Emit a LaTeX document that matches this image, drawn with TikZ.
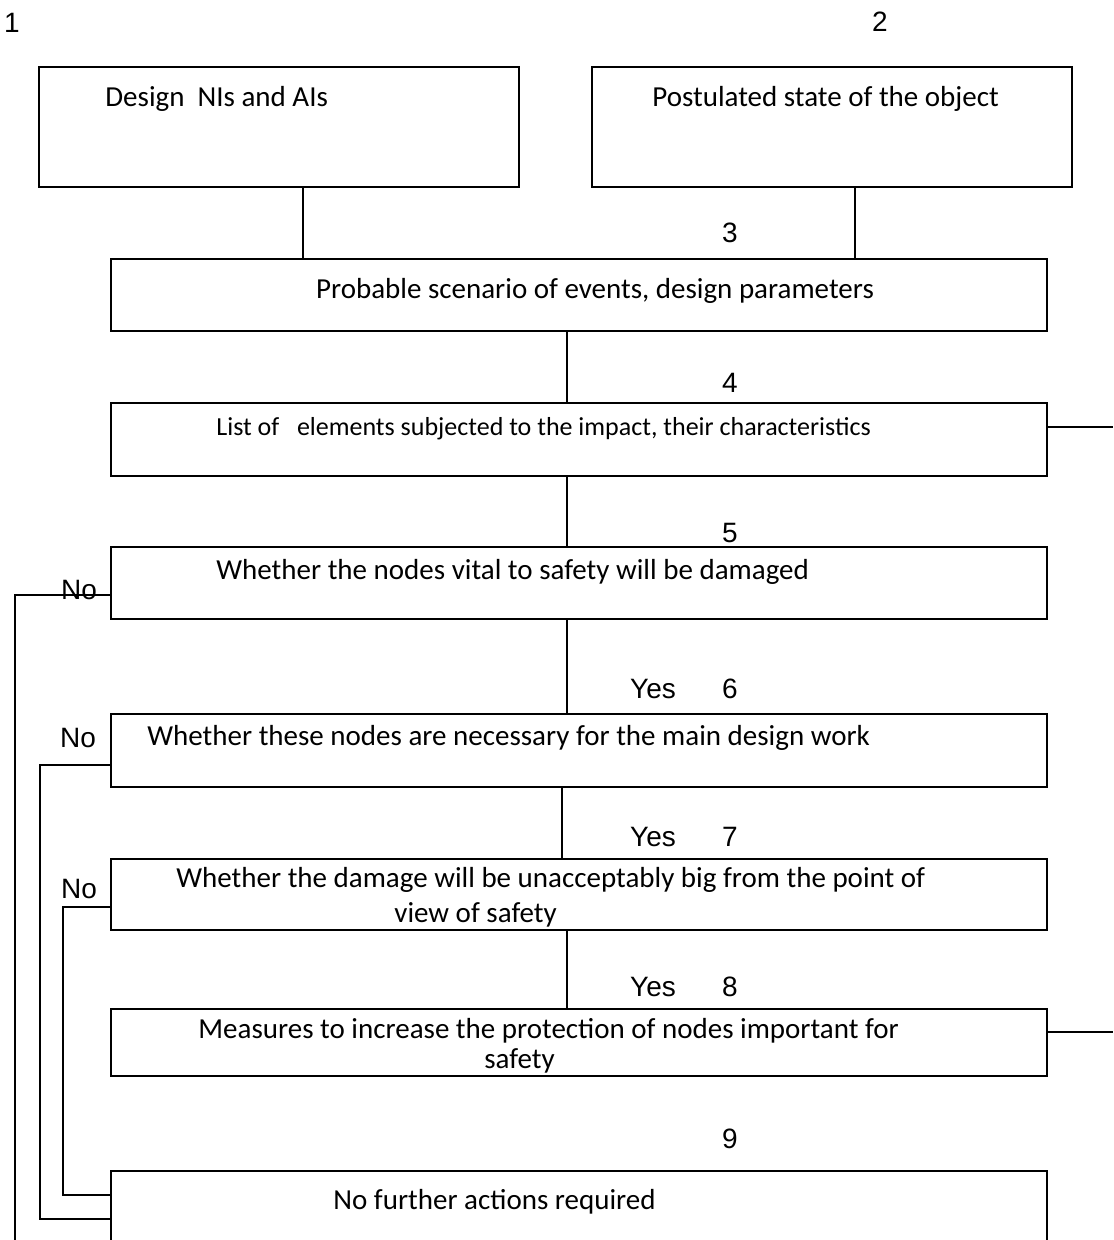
\documentclass[tikz,border=0pt]{standalone}
\usepackage{fontspec}
\setmainfont{Carlito}
\newfontfamily\labelfont{Liberation Sans}
\usetikzlibrary{fit}
\begin{document}
\begin{tikzpicture}[x=0.5pt,y=-0.5pt,
  box/.style={draw, line width=0.75pt, inner sep=0pt},
  conn/.style={draw, line width=0.6pt},
  txt/.style={anchor=base west, inner sep=0pt, font=\fontsize{14.5}{17.5}\selectfont},
  txtc/.style={anchor=base, inner sep=0pt, font=\fontsize{14.5}{17.5}\selectfont},
  lab/.style={inner sep=0pt, font=\labelfont\fontsize{14}{16}\selectfont}]
\clip (0,0) rectangle (1113,1240);
\fill[white] (0,0) rectangle (1113,1240);
% boxes
\node[box, fit={(39,67) (519,187)}] (b1) {};
\node[box, fit={(592,67) (1072,187)}] (b2) {};
\node[box, fit={(111,259) (1047,331)}] (b3) {};
\node[box, fit={(111,403) (1047,476)}] (b4) {};
\node[box, fit={(111,547) (1047,619)}] (b5) {};
\node[box, fit={(111,714) (1047,787)}] (b6) {};
\node[box, fit={(111,859) (1047,930)}] (b7) {};
\node[box, fit={(111,1009) (1047,1076)}] (b8) {};
\node[box, fit={(111,1171) (1047,1270)}] (b9) {};
% texts
\node[txt] (t1) at (105,107) {Design\ \ NIs and AIs};
\node[txt] (t2) at (652,107) {Postulated state of the object};
\node[txtc] (t3) at (595,299) {Probable scenario of events, design parameters};
\node[txt, font=\fontsize{13}{16}\selectfont] (t4) at (216,436) {List of\ \ \ elements subjected to the impact, their characteristics};
\node[txt] (t5) at (216,579) {Whether the nodes vital to safety will be damaged};
\node[txt] (t6) at (147,745) {Whether these nodes are necessary for the main design work};
\node[txt, align=left, font=\fontsize{14.5}{17.5}\selectfont] (t7) at (176,922) {Whether the damage will be unacceptably big from the point of\\\hspace*{109pt}view of safety};
\node[txt, align=left, font=\fontsize{14.5}{15}\selectfont] (t8) at (198,1068) {Measures to increase the protection of nodes important for\\\hspace*{143pt}safety};
\node[txt] (t9) at (333,1209) {No further actions required};
% labels
\node[lab] (l1) at (12,23) {1};
\node[lab] (l2) at (880,22) {2};
\node[lab] (l3) at (730,233) {3};
\node[lab] (l4) at (730,383) {4};
\node[lab] (l5) at (730,533) {5};
\node[lab] (y6) at (653,689) {Yes};
\node[lab] (l6) at (730,689) {6};
\node[lab] (y7) at (653,837) {Yes};
\node[lab] (l7) at (730,837) {7};
\node[lab] (y8) at (653,987) {Yes};
\node[lab] (l8) at (730,987) {8};
\node[lab] (l9) at (730,1139) {9};
% helper coordinates
\coordinate (xa) at (303,0);
\coordinate (xb) at (855,0);
\coordinate (xc) at (567,0);
\coordinate (xd) at (562,0);
\coordinate (r4) at (1113,427);
\coordinate (r8) at (1113,1032);
\coordinate (n5) at (15,595);
\coordinate (e5) at (15,1260);
\coordinate (n6) at (40,765);
\coordinate (m6) at (0,1219);
\coordinate (n7) at (63,907);
\coordinate (m7) at (0,1195);
% connectors
\draw[conn] (b1.south -| xa) -- (b3.north -| xa);
\draw[conn] (b2.south -| xb) -- (b3.north -| xb);
\draw[conn] (b3.south -| xc) -- (b4.north -| xc);
\draw[conn] (b4.south -| xc) -- (b5.north -| xc);
\draw[conn] (b5.south -| xc) -- (b6.north -| xc);
\draw[conn] (b6.south -| xd) -- (b7.north -| xd);
\draw[conn] (b7.south -| xc) -- (b8.north -| xc);
\draw[conn] (b4.east |- r4) -- (r4);
\draw[conn] (b8.east |- r8) -- (r8);
\draw[conn] (b5.west |- n5) -- (n5) -- (e5);
\draw[conn] (b6.west |- n6) -- (n6) -- (n6 |- m6) -- (b9.west |- m6);
\draw[conn] (b7.west |- n7) -- (n7) -- (n7 |- m7) -- (b9.west |- m7);
% No labels
\node[lab] (no5) at (79,590) {No};
\node[lab] (no6) at (78,738) {No};
\node[lab] (no7) at (79,889) {No};
\end{tikzpicture}
\end{document}
